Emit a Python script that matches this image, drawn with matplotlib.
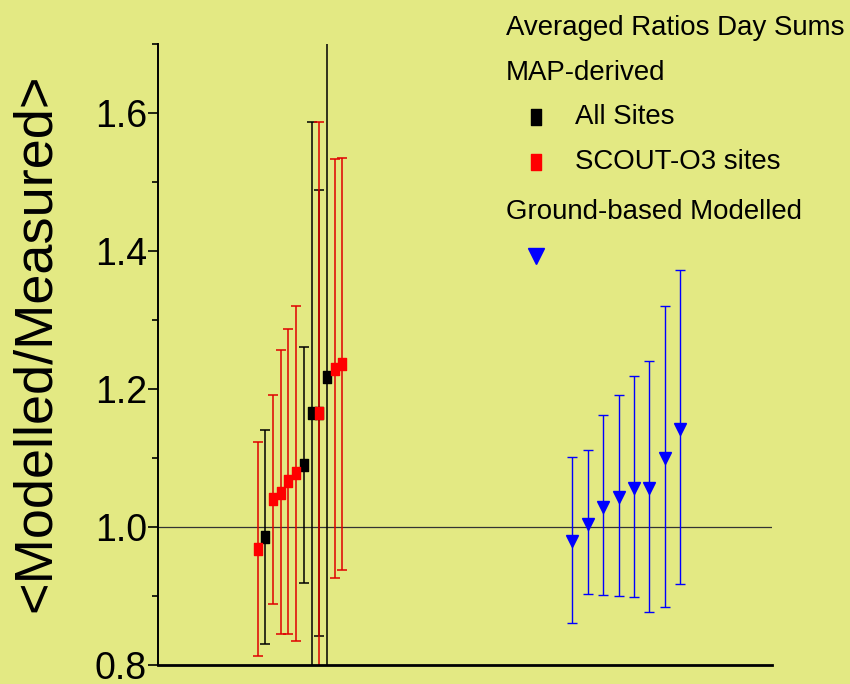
import matplotlib
matplotlib.use("Agg")
import matplotlib.pyplot as plt
from matplotlib.path import Path
from matplotlib.lines import Line2D
from matplotlib.ticker import MultipleLocator

# ---------------- data ----------------
# MAP-derived, all sites (black)
all_x = [14, 19, 20, 21, 22]
all_y = [0.986, 1.090, 1.165, 1.165, 1.217]
all_lo = [0.831, 0.919, 0.745, 0.842, 0.720]
all_hi = [1.140, 1.261, 1.587, 1.488, 1.720]

# MAP-derived, SCOUT-O3 sites (red)
scout_x = [13, 15, 16, 17, 18, 21, 23, 24]
scout_y = [0.968, 1.041, 1.050, 1.066, 1.078, 1.165, 1.229, 1.236]
scout_lo = [0.813, 0.889, 0.845, 0.845, 0.835, 0.743, 0.926, 0.938]
scout_hi = [1.123, 1.191, 1.256, 1.287, 1.321, 1.587, 1.533, 1.535]

# Ground-based modelled (blue)
gb_x = [54, 56, 58, 60, 62, 64, 66, 68]
gb_y = [0.979, 1.005, 1.029, 1.043, 1.056, 1.057, 1.100, 1.142]
gb_lo = [0.861, 0.903, 0.902, 0.900, 0.898, 0.877, 0.884, 0.918]
gb_hi = [1.102, 1.111, 1.162, 1.192, 1.219, 1.241, 1.320, 1.372]

yticks = [0.8, 1.0, 1.2, 1.4, 1.6]
ytick_labels = ["0.8", "1.0", "1.2", "1.4", "1.6"]

legend_title = "Averaged Ratios Day Sums"
legend_group1 = "MAP-derived"
legend_all = "All Sites"
legend_scout = "SCOUT-O3 sites"
legend_group2 = "Ground-based Modelled"

# ---------------- style ----------------
BG = "#E3E983"
FONT = ["Liberation Sans", "DejaVu Sans"]
rect = Path([(-2, -3), (2, -3), (2, 3), (-2, 3), (-2, -3)],
            [Path.MOVETO, Path.LINETO, Path.LINETO, Path.LINETO, Path.CLOSEPOLY])

fig = plt.figure(figsize=(8.5, 6.84), dpi=100, facecolor=BG)
ax = fig.add_axes([158 / 850, 1 - 665 / 684, (772 - 158) / 850, (665 - 44) / 684])
ax.set_facecolor(BG)


def err(y, lo, hi):
    return [[a - b for a, b in zip(y, lo)], [b - a for a, b in zip(y, hi)]]


ax.axhline(1.0, color="#333333", lw=0.9, zorder=1)

cap = 3.3
ax.errorbar(all_x, all_y, yerr=err(all_y, all_lo, all_hi), fmt="none",
            ecolor="black", elinewidth=1.1, capsize=cap, capthick=1.1, zorder=2)
ax.errorbar(scout_x, scout_y, yerr=err(scout_y, scout_lo, scout_hi), fmt="none",
            ecolor="#E00000", elinewidth=1.1, capsize=cap, capthick=1.1, zorder=2)
ax.errorbar(gb_x, gb_y, yerr=err(gb_y, gb_lo, gb_hi), fmt="none",
            ecolor="#0000FF", elinewidth=1.0, capsize=cap, capthick=1.0, zorder=2)

ax.plot(all_x, all_y, ls="none", marker=rect, ms=9, color="black", zorder=3)
ax.plot(scout_x, scout_y, ls="none", marker=rect, ms=9, color="#FF0000", zorder=4)
ax.plot(gb_x, gb_y, ls="none", marker="v", ms=9, color="#0000FF", zorder=3)

ax.set_xlim(0, 80)
ax.set_ylim(0.8, 1.7)
ax.set_xticks([])
ax.set_yticks(yticks)
ax.set_yticklabels(ytick_labels, family=FONT, fontsize=27)
ax.yaxis.set_minor_locator(MultipleLocator(0.1))
ax.tick_params(axis="y", which="major", direction="out", length=7, width=1.2, pad=1)
ax.tick_params(axis="y", which="minor", direction="out", length=4, width=1.2)
for s in ["top", "right"]:
    ax.spines[s].set_visible(False)
ax.spines["left"].set_linewidth(1.4)
ax.spines["bottom"].set_linewidth(2.0)

fig.text(0.042, (1 - 343 / 684), "<Modelled/Measured>", rotation=90,
         ha="center", va="center", family=FONT, fontsize=39)

# ---------------- legend (manual) ----------------
renderer = fig.canvas.get_renderer()
title = fig.text(506 / 850, 1 - 28 / 684, legend_title, family=FONT, fontsize=20,
                 va="center", ha="left")
w = title.get_window_extent(renderer).width
fs = 20 * 338.0 / w
title.set_fontsize(fs)
fig.text(506 / 850, 1 - 73 / 684, legend_group1, family=FONT, fontsize=fs, va="center", ha="left")
fig.text(575 / 850, 1 - 117 / 684, legend_all, family=FONT, fontsize=fs, va="center", ha="left")
fig.text(575 / 850, 1 - 162 / 684, legend_scout, family=FONT, fontsize=fs, va="center", ha="left")
fig.text(506 / 850, 1 - 212 / 684, legend_group2, family=FONT, fontsize=fs, va="center", ha="left")
fig.add_artist(Line2D([536 / 850], [1 - 117 / 684], transform=fig.transFigure,
                      marker=rect, ms=11, color="black", ls="none"))
fig.add_artist(Line2D([536 / 850], [1 - 162 / 684], transform=fig.transFigure,
                      marker=rect, ms=11, color="#FF0000", ls="none"))
fig.add_artist(Line2D([536 / 850], [1 - 256 / 684], transform=fig.transFigure,
                      marker="v", ms=12, color="#0000FF", ls="none"))

fig.savefig("out.png", dpi=100, facecolor=BG)
